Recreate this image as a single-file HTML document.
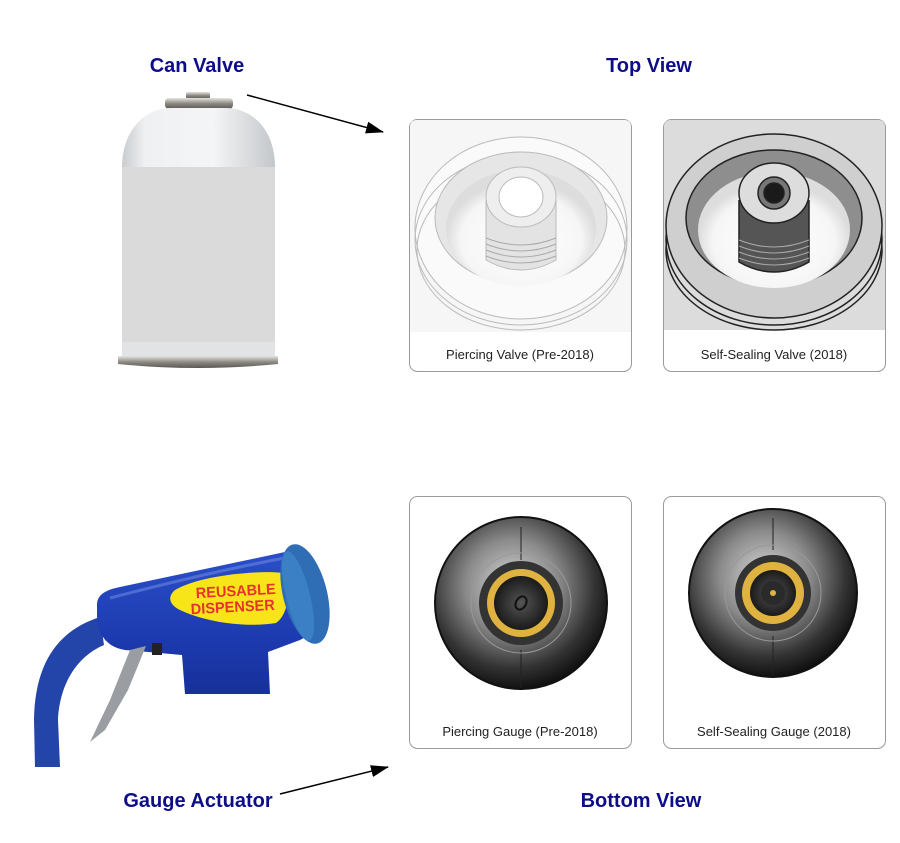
<!DOCTYPE html>
<html><head><meta charset="utf-8"><style>
html,body{margin:0;padding:0;background:#fff;}
svg{display:block;}
text{font-family:"Liberation Sans",sans-serif;}
</style></head><body>
<svg width="900" height="843" viewBox="0 0 900 843" xmlns="http://www.w3.org/2000/svg">
<defs>
<linearGradient id="canbody" x1="0" x2="1" y1="0" y2="0">
<stop offset="0" stop-color="#c9cccf"/><stop offset="0.15" stop-color="#eef0f2"/><stop offset="0.6" stop-color="#f4f5f6"/><stop offset="1" stop-color="#c4c7ca"/></linearGradient>
<linearGradient id="metal" x1="0" x2="0" y1="0" y2="1">
<stop offset="0" stop-color="#e6e4de"/><stop offset="0.5" stop-color="#8d8a84"/><stop offset="1" stop-color="#5a5752"/></linearGradient>
<radialGradient id="gauge" cx="0.45" cy="0.4" r="0.6">
<stop offset="0" stop-color="#d8d8d8"/><stop offset="0.45" stop-color="#8a8a8a"/><stop offset="0.8" stop-color="#333"/><stop offset="1" stop-color="#111"/></radialGradient>
<radialGradient id="inner" cx="0.5" cy="0.5" r="0.5">
<stop offset="0" stop-color="#555"/><stop offset="1" stop-color="#1a1a1a"/></radialGradient>
<radialGradient id="bowl" cx="0.5" cy="0.6" r="0.5">
<stop offset="0" stop-color="#fff"/><stop offset="0.8" stop-color="#f6f6f6"/><stop offset="1" stop-color="#ddd"/></radialGradient>
<linearGradient id="blue" x1="0" x2="0" y1="0" y2="1">
<stop offset="0" stop-color="#2a4fc8"/><stop offset="0.6" stop-color="#1d3bb0"/><stop offset="1" stop-color="#17309a"/></linearGradient>
<marker id="ah" markerWidth="18" markerHeight="12" refX="17" refY="6" orient="auto" markerUnits="userSpaceOnUse">
<path d="M0,0 L18,6 L0,12 z" fill="#000"/></marker>
</defs>

<!-- titles -->
<g fill="#0d0d8a" font-weight="bold" font-size="20" text-anchor="middle">
<text x="197" y="72">Can Valve</text>
<text x="649" y="72">Top View</text>
<text x="198" y="807">Gauge Actuator</text>
<text x="641" y="807">Bottom View</text>
</g>

<!-- arrows -->
<line x1="247" y1="95" x2="383" y2="132" stroke="#000" stroke-width="1.5" marker-end="url(#ah)"/>
<line x1="280" y1="794" x2="388" y2="767" stroke="#000" stroke-width="1.5" marker-end="url(#ah)"/>

<!-- can -->
<rect x="186" y="92" width="24" height="7" rx="2" fill="url(#metal)"/>
<rect x="165" y="98" width="68" height="11" rx="4" fill="url(#metal)"/>
<path d="M122,168 C122,125 150,108 170,108 L226,108 C248,108 275,125 275,168 Z" fill="url(#canbody)"/>
<rect x="122" y="167" width="153" height="190" fill="#dadada"/>
<rect x="122" y="342" width="153" height="15" fill="#e2e3e4"/>
<path d="M118,356 L278,356 L278,364 Q198,372 118,364 Z" fill="url(#metal)"/>

<!-- top cards -->
<rect x="409.5" y="119.5" width="222" height="252" rx="8" fill="#fff" stroke="#9a9a9a"/>
<path d="M410,332 L410,127 Q410,120 417,120 L624,120 Q631,120 631,127 L631,332 Z" fill="#f6f6f6"/>
<g fill="none" stroke="#bbb" stroke-width="1">
<ellipse cx="521" cy="228" rx="106" ry="91" fill="#fafafa"/>
<ellipse cx="521" cy="240" rx="106" ry="85"/>
<ellipse cx="521" cy="250" rx="104" ry="80"/>
<ellipse cx="521" cy="218" rx="86" ry="66" fill="#e6e6e6"/>
<ellipse cx="521" cy="228" rx="75" ry="58" fill="url(#bowl)" stroke="none"/>
<path d="M486,200 L486,260 Q521,280 556,260 L556,200" fill="#e3e3e3"/>
<g stroke="#aaa"><path d="M486,238 Q521,252 556,238"/><path d="M486,244 Q521,258 556,244"/><path d="M486,250 Q521,264 556,250"/><path d="M486,256 Q521,270 556,256"/></g>
<ellipse cx="521" cy="197" rx="35" ry="30" fill="#eee"/>
<ellipse cx="521" cy="197" rx="22" ry="20" fill="#fff"/>
</g>
<text x="520" y="359" font-size="13" text-anchor="middle" fill="#222">Piercing Valve (Pre-2018)</text>

<rect x="663.5" y="119.5" width="222" height="252" rx="8" fill="#fff" stroke="#9a9a9a"/>
<path d="M664,330 L664,127 Q664,120 671,120 L878,120 Q885,120 885,127 L885,330 Z" fill="#dcdcdc"/>
<g fill="none" stroke="#222" stroke-width="1.5">
<ellipse cx="774" cy="250" rx="108" ry="80"/>
<ellipse cx="774" cy="240" rx="108" ry="85"/>
<ellipse cx="774" cy="226" rx="108" ry="92" fill="#cfcfcf"/>
<ellipse cx="774" cy="218" rx="88" ry="68" fill="#8e8e8e"/>
<ellipse cx="774" cy="230" rx="76" ry="58" fill="url(#bowl)" stroke="none"/>
<path d="M739,200 L739,262 Q774,282 809,262 L809,200" fill="#555"/>
<g stroke="#aaa" stroke-width="1"><path d="M739,240 Q774,254 809,240"/><path d="M739,246 Q774,260 809,246"/><path d="M739,252 Q774,266 809,252"/><path d="M739,258 Q774,272 809,258"/></g>
<ellipse cx="774" cy="193" rx="35" ry="30" fill="#ddd"/>
<circle cx="774" cy="193" r="16" fill="#777"/>
<circle cx="774" cy="193" r="10" fill="#1a1a1a"/>
</g>
<text x="774" y="359" font-size="13" text-anchor="middle" fill="#222">Self-Sealing Valve (2018)</text>

<!-- bottom cards -->
<rect x="409.5" y="496.5" width="222" height="252" rx="8" fill="#fff" stroke="#9a9a9a"/>
<circle cx="521" cy="603" r="86" fill="url(#gauge)" stroke="#111" stroke-width="2"/>
<line x1="521" y1="527" x2="521" y2="560" stroke="#222"/>
<line x1="521" y1="650" x2="521" y2="688" stroke="#222"/>
<circle cx="521" cy="603" r="50" fill="none" stroke="#999"/>
<circle cx="521" cy="603" r="42" fill="#333"/>
<circle cx="521" cy="603" r="34" fill="#e0b341"/>
<circle cx="521" cy="603" r="27" fill="url(#inner)"/>
<ellipse cx="521" cy="603" rx="5" ry="7" fill="none" stroke="#111" stroke-width="2" transform="rotate(30 521 603)"/>
<text x="520" y="736" font-size="13" text-anchor="middle" fill="#222">Piercing Gauge (Pre-2018)</text>

<rect x="663.5" y="496.5" width="222" height="252" rx="8" fill="#fff" stroke="#9a9a9a"/>
<circle cx="773" cy="593" r="84" fill="url(#gauge)" stroke="#111" stroke-width="2"/>
<line x1="773" y1="518" x2="773" y2="550" stroke="#222"/>
<line x1="773" y1="636" x2="773" y2="676" stroke="#222"/>
<circle cx="773" cy="593" r="48" fill="none" stroke="#999"/>
<circle cx="773" cy="593" r="38" fill="#333"/>
<circle cx="773" cy="593" r="31" fill="#e0b341"/>
<circle cx="773" cy="593" r="23" fill="url(#inner)"/>
<circle cx="773" cy="593" r="12" fill="#2a2a2a"/>
<circle cx="773" cy="593" r="3" fill="#e0b341"/>
<text x="774" y="736" font-size="13" text-anchor="middle" fill="#222">Self-Sealing Gauge (2018)</text>

<!-- actuator -->
<path d="M100,617 C60,630 35,660 34,720 L35,767 L60,767 L58,720 C60,680 80,655 104,645 Z" fill="#2344a8"/>
<path d="M97,605 C97,595 105,590 120,587 L285,552 L312,556 L318,630 L300,640 L268,652 L270,694 L185,694 L182,655 L125,650 C105,647 97,632 97,615 Z" fill="url(#blue)"/>
<path d="M110,598 C160,585 230,568 295,556" stroke="#6a86e0" stroke-width="3" fill="none" opacity="0.6"/>
<path d="M175,590 C200,575 260,570 283,573 C292,590 288,615 276,623 C245,628 205,622 180,610 C168,604 168,596 175,590 Z" fill="#f7e51a"/>
<text x="236" y="596" font-size="15" font-weight="bold" fill="#e5342a" text-anchor="middle" transform="rotate(-3 236 596)" textLength="80" lengthAdjust="spacingAndGlyphs">REUSABLE</text>
<text x="233" y="612" font-size="15" font-weight="bold" fill="#e5342a" text-anchor="middle" transform="rotate(-3 233 612)" textLength="84" lengthAdjust="spacingAndGlyphs">DISPENSER</text>
<ellipse cx="305" cy="594" rx="22" ry="51" fill="#2f6db5" transform="rotate(-14 305 594)"/>
<ellipse cx="298" cy="596" rx="12" ry="46" fill="#3b7fc4" transform="rotate(-14 298 596)"/>
<path d="M146,646 L130,650 L110,700 L90,742 L105,730 L128,690 Z" fill="#9a9ea2"/>
<rect x="152" y="643" width="10" height="12" fill="#222"/>
</svg>
</body></html>
